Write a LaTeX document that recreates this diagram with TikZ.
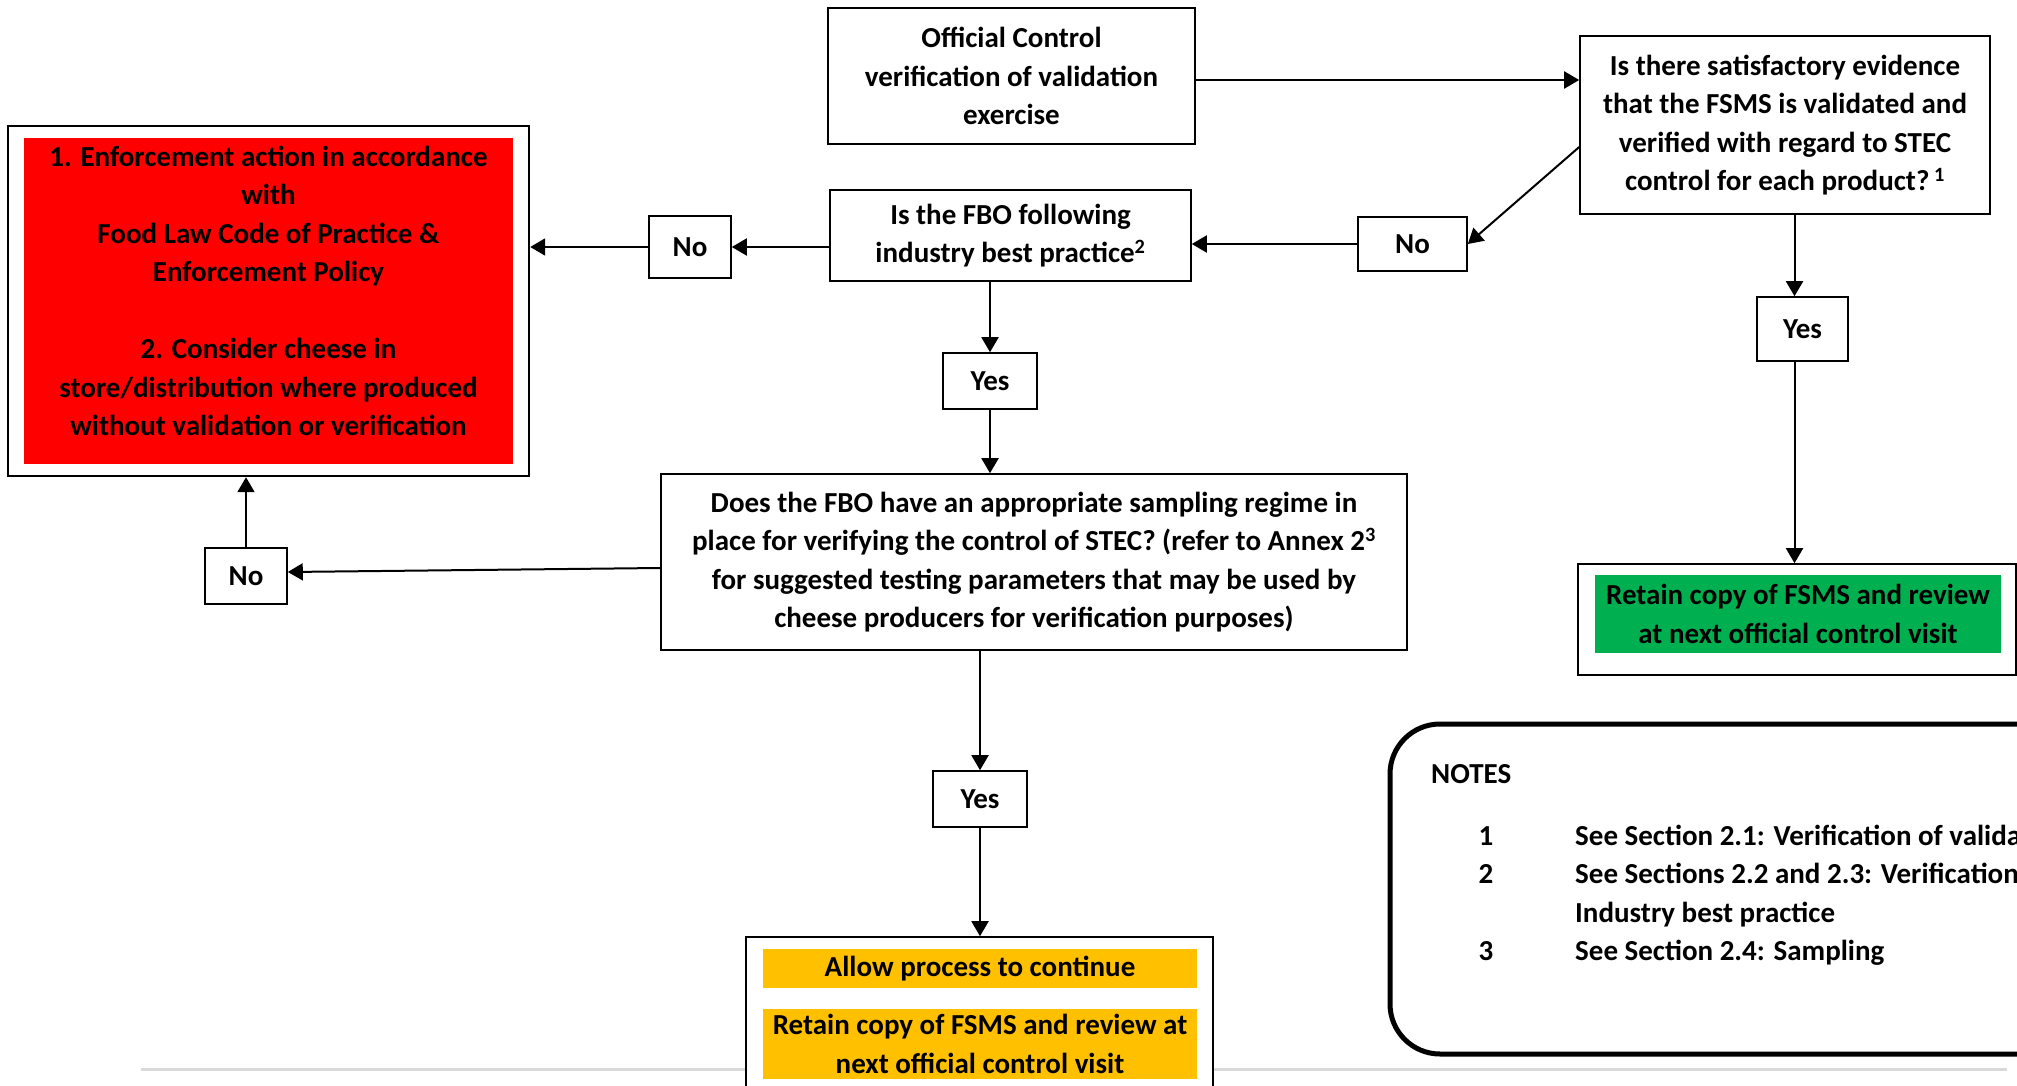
\documentclass[tikz,border=0pt]{standalone}
\usepackage{fontspec}
\setmainfont{Carlito}
\usetikzlibrary{arrows.meta}
\definecolor{keepgreen}{HTML}{00B050}
\definecolor{allowamber}{HTML}{FFC000}

\begin{document}
\begin{tikzpicture}
[x=1pt,y=-1pt,
  boxDecorate/.style={draw,line width=1.6pt,fill=white,align=center,inner sep=0pt,
    font=\fontsize{29}{38.5}\selectfont\bfseries},
  fillDecorate/.style={boxDecorate,draw=none},
  lineDecorate/.style={-{Triangle[length=15pt,width=17pt]},line width=2pt},
  noteDecorate/.style={inner sep=0pt,font=\fontsize{29}{38.5}\selectfont\bfseries}]
%% page
\clip (0,0) rectangle (2017,1086);
\fill[white] (0,0) rectangle (2017,1086);
\draw[line width=3pt,black!15] (141,1069) -- (2007,1069);
%% questions
\node[boxDecorate,minimum width=367,minimum height=136] (ctrl) at (1011.5,76)
  {Official Control\\verification of validation\\exercise};
\node[boxDecorate,minimum width=410,minimum height=178] (evid) at (1785,125)
  {Is there satisfactory evidence\\that the FSMS is validated and\\verified with regard to STEC\\control for each product?\,\textsuperscript{1}};
\node[boxDecorate,minimum width=361,minimum height=91] (fbo) at (1010.5,235.5)
  {Is the FBO following\\industry best practice\textsuperscript{2}};
\node[boxDecorate,minimum width=746,minimum height=176] (samp) at (1034,562)
  {Does the FBO have an appropriate sampling regime in\\place for verifying the control of STEC? (refer to Annex 2\textsuperscript{3}\\for suggested testing parameters that may be used by\\cheese producers for verification purposes)};
%% outcomes
\node[boxDecorate,line width=2.4pt,minimum width=521,minimum height=350] (enf) at (268.5,301) {};
\node[fillDecorate,fill=red,minimum width=489,minimum height=326] (enfred) at (268.5,301) {};
\node[fillDecorate,fill=none,anchor=north,yshift=-8pt] (enftext) at (enfred.north)
  {1. Enforcement action in accordance\\with\\Food Law Code of Practice \&\\Enforcement Policy\\[38.5pt]2. Consider cheese in\\store/distribution where produced\\without validation or verification};
\node[boxDecorate,minimum width=438,minimum height=111] (keep) at (1797,619.5) {};
\node[fillDecorate,fill=keepgreen,minimum width=406,minimum height=78] (keeptext) at (1798,614)
  {Retain copy of FSMS and review\\at next official control visit};
\node[boxDecorate,minimum width=467,minimum height=183] (allow) at (979.5,1028.5) {};
\node[fillDecorate,fill=allowamber,minimum width=434,minimum height=39] (allowtext) at (980,968.5)
  {Allow process to continue};
\node[fillDecorate,fill=allowamber,minimum width=434,minimum height=70] (retain) at (980,1044)
  {Retain copy of FSMS and review at\\next official control visit};
%% answers
\foreach \nodename/\x/\y/\w/\h/\answer in {
  noL/690/247/82/62/No, noR/1412.5/244/109/54/No, yesR/1802.5/329/91/64/Yes,
  yesM/990/381/94/56/Yes, noB/246/576/82/56/No, yesB/980/799/94/56/Yes}
{
  \node[boxDecorate,minimum width=\w,minimum height=\h] (\nodename) at (\x,\y) {\answer};
}
%% notes
\node[draw,line width=5pt,rounded corners=50pt,minimum width=760,minimum height=330] (notes) at (1770,889) {};
\node[noteDecorate,anchor=base west] (notehead) at (1431,783) {NOTES};
\foreach \num/\y/\txt in {1/845/See Section 2.1: Verification of validation,
  2/883/See Sections 2.2 and 2.3: Verification, /922/Industry best practice,
  3/960/See Section 2.4: Sampling}
{
  \node[noteDecorate,anchor=base] (notenum\y) at (1486,\y) {\num};
  \node[noteDecorate,anchor=base west] (notetext\y) at (1575,\y) {\txt};
}
%% connectors
\coordinate (ctrlside) at ([yshift=-4pt]ctrl.east);
\coordinate (evidside) at ([yshift=-22pt]evid.west);
\coordinate (sampside) at ([yshift=-6pt]samp.west);
\coordinate (noBside) at ([yshift=4pt]noB.east);
\coordinate (yesRtop) at ([xshift=-8pt]yesR.north);
\coordinate (yesRbot) at ([xshift=-8pt]yesR.south);
\path
\foreach \startnode/\endnode in {
  ctrlside/ctrlside -| evid.west, evidside/noR.east,
  noR.west/noR.west -| fbo.east, noL.east -| fbo.west/noL.east,
  noL.west/noL.west -| enf.east, yesM.north |- fbo.south/yesM.north,
  yesM.south/yesM.south |- samp.north, sampside/noBside,
  noB.north/noB.north |- enf.south, yesRtop |- evid.south/yesRtop,
  yesRbot/yesRbot |- keep.north, yesB.north |- samp.south/yesB.north,
  yesB.south/yesB.south |- allow.north}
{
  (\startnode) edge[lineDecorate] (\endnode)
};
\end{tikzpicture}
\end{document}
